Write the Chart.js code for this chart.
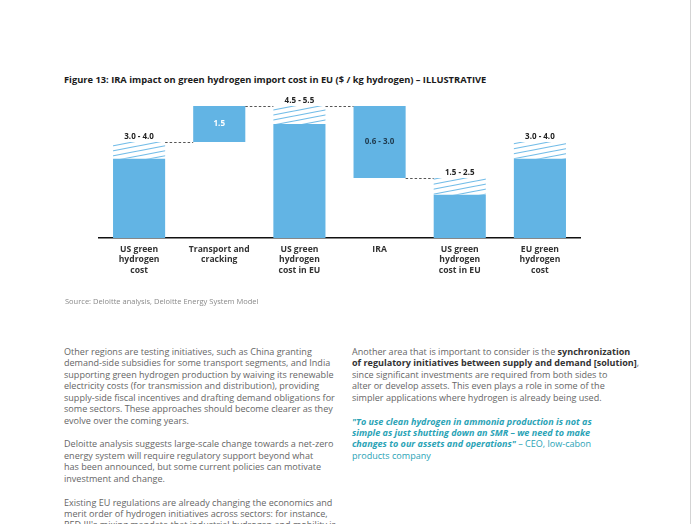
<!DOCTYPE html>
<html>
<head>
<meta charset="utf-8">
<script src="https://cdn.jsdelivr.net/npm/chart.js@4/dist/chart.umd.min.js"></script>
<style>
  html, body { margin: 0; padding: 0; background: #fff; }
  #page {
    position: relative; width: 692px; height: 524px; overflow: hidden;
    background: #fff; font-family: "Open Sans", sans-serif;
  }
  #edge { position: absolute; left: 690px; top: 0; width: 1px; height: 524px; background: #d4d4d4; }
  #title {
    position: absolute; left: 64px; top: 73px; font-size: 9.3px; font-weight: 700;
    color: #1a1a1a; white-space: nowrap;
  }
  #chart { position: absolute; left: 60px; top: 86px; }
  #source {
    position: absolute; left: 65px; top: 296px; font-size: 7.5px; color: #8a8a8a; white-space: nowrap;
  }
  .col {
    position: absolute; top: 346px; font-size: 9.05px; line-height: 11.45px; color: #666;
    white-space: nowrap;
  }
  .col p { margin: 0 0 12.3px 0; }
  .col b { color: #333; font-weight: 700; }
  #left { left: 64px; }
  #right { left: 352px; }
  .quote { color: #2aa3b6; }
  .quote i { font-weight: 700; }
</style>
</head>
<body>
<div id="page">
  <div id="edge"></div>
  <div id="title">Figure 13: IRA impact on green hydrogen import cost in EU ($ / kg hydrogen) – ILLUSTRATIVE</div>
  <canvas id="chart" width="540" height="212"></canvas>
  <div id="source">Source: Deloitte analysis, Deloitte Energy System Model</div>

  <div class="col" id="left">
    <p>Other regions are testing initiatives, such as China granting<br>
    demand-side subsidies for some transport segments, and India<br>
    supporting green hydrogen production by waiving its renewable<br>
    electricity costs (for transmission and distribution), providing<br>
    supply-side fiscal incentives and drafting demand obligations for<br>
    some sectors. These approaches should become clearer as they<br>
    evolve over the coming years.</p>
    <p>Deloitte analysis suggests large-scale change towards a net-zero<br>
    energy system will require regulatory support beyond what<br>
    has been announced, but some current policies can motivate<br>
    investment and change.</p>
    <p>Existing EU regulations are already changing the economics and<br>
    merit order of hydrogen initiatives across sectors: for instance,<br>
    RED III's mixing mandate that industrial hydrogen and mobility is</p>
  </div>

  <div class="col" id="right">
    <p>Another area that is important to consider is the <b>synchronization</b><br>
    <b>of regulatory initiatives between supply and demand [solution]</b>,<br>
    since significant investments are required from both sides to<br>
    alter or develop assets. This even plays a role in some of the<br>
    simpler applications where hydrogen is already being used.</p>
    <p class="quote"><i>"To use clean hydrogen in ammonia production is not as<br>
    simple as just shutting down an SMR – we need to make<br>
    changes to our assets and operations"</i> – CEO, low-cabon<br>
    products company</p>
  </div>
</div>

<script>
/* ---------- DATA ---------- */
const CATEGORIES = [
  ["US green", "hydrogen", "cost"],
  ["Transport and", "cracking"],
  ["US green", "hydrogen", "cost in EU"],
  ["IRA"],
  ["US green", "hydrogen", "cost in EU"],
  ["EU green", "hydrogen", "cost"]
];
const STEP_TYPES = ["total", "up", "total", "down", "total", "total"];

// solid part of each bar ($ / kg)
const SOLID = [[0, 3.3], [4.0, 5.5], [0, 4.75], [2.5, 5.5], [0, 1.8], [0, 3.3]];
// hatched uncertainty band on top of the totals
const RANGE = [[3.3, 4.0], null, [4.75, 5.5], null, [1.8, 2.5], [3.3, 4.0]];
const VALUE_LABELS = ["3.0 - 4.0", "1.5", "4.5 - 5.5", "0.6 - 3.0", "1.5 - 2.5", "3.0 - 4.0"];
// dashed connector level between bar i and bar i+1
const CONNECTORS = [4.0, 5.5, 5.5, 2.5];

/* ---------- STYLE ---------- */
const BAR_BLUE = "#62b4e4";
const HATCH_BLUE = "#74bde8";

function makeHatch() {
  const w = 26, h = 5;
  const c = document.createElement("canvas");
  c.width = w; c.height = h;
  const g = c.getContext("2d");
  g.fillStyle = "#fff";
  g.fillRect(0, 0, w, h);
  g.strokeStyle = HATCH_BLUE;
  g.lineWidth = 1.1;
  [-h, 0, h].forEach(off => {
    g.beginPath();
    g.moveTo(-w, 2 * h + off);
    g.lineTo(2 * w, -h + off);
    g.stroke();
  });
  return g.createPattern(c, "repeat");
}

/* ---------- LABELS + CONNECTORS ---------- */
const annotate = {
  id: "annotate",
  afterDatasetsDraw(chart) {
    const { ctx, scales: { y } } = chart;
    const bars = chart.getDatasetMeta(0).data;
    ctx.save();

    ctx.strokeStyle = "#555";
    ctx.lineWidth = 1;
    ctx.setLineDash([2.5, 2]);
    CONNECTORS.forEach((v, i) => {
      const a = bars[i], b = bars[i + 1];
      const yy = Math.round(y.getPixelForValue(v)) + 0.5;
      ctx.beginPath();
      ctx.moveTo(a.x + a.width / 2, yy);
      ctx.lineTo(b.x - b.width / 2, yy);
      ctx.stroke();
    });
    ctx.setLineDash([]);

    ctx.font = "700 8px 'Open Sans'";
    ctx.textAlign = "center";
    VALUE_LABELS.forEach((txt, i) => {
      const bar = bars[i];
      if (STEP_TYPES[i] === "total") {
        const top = RANGE[i] ? RANGE[i][1] : SOLID[i][1];
        ctx.fillStyle = "#222";
        ctx.textBaseline = "bottom";
        ctx.fillText(txt, bar.x, y.getPixelForValue(top) - 1);
      } else {
        const mid = (SOLID[i][0] + SOLID[i][1]) / 2;
        ctx.fillStyle = STEP_TYPES[i] === "up" ? "#fff" : "#1f3a4d";
        ctx.textBaseline = "middle";
        ctx.fillText(txt, bar.x, y.getPixelForValue(mid));
      }
    });
    ctx.restore();
  }
};

/* ---------- CHART ---------- */
const ctx = document.getElementById("chart").getContext("2d");

new Chart(ctx, {
  type: "bar",
  data: {
    labels: CATEGORIES,
    datasets: [
      {
        label: "cost",
        data: SOLID,
        backgroundColor: BAR_BLUE,
        borderWidth: 0,
        grouped: false,
        categoryPercentage: 1,
        barPercentage: 0.65
      },
      {
        label: "range",
        data: RANGE,
        backgroundColor: makeHatch(),
        borderWidth: 0,
        grouped: false,
        categoryPercentage: 1,
        barPercentage: 0.65
      }
    ]
  },
  options: {
    responsive: false,
    animation: false,
    layout: { padding: { left: 39, right: 20, top: 8, bottom: 0 } },
    plugins: {
      legend: { display: false },
      tooltip: { enabled: false }
    },
    scales: {
      x: {
        grid: { display: false, drawTicks: false },
        border: { display: true, color: "#111", width: 1.5 },
        ticks: {
          color: "#333",
          padding: 6,
          maxRotation: 0,
          autoSkip: false,
          font: { family: "Open Sans", size: 8.6, weight: "700", lineHeight: 1.22 }
        },
        afterFit(scale) { scale.height = 60; }
      },
      y: {
        display: false,
        min: 0,
        max: 6
      }
    }
  },
  plugins: [annotate]
});
</script>
</body>
</html>
